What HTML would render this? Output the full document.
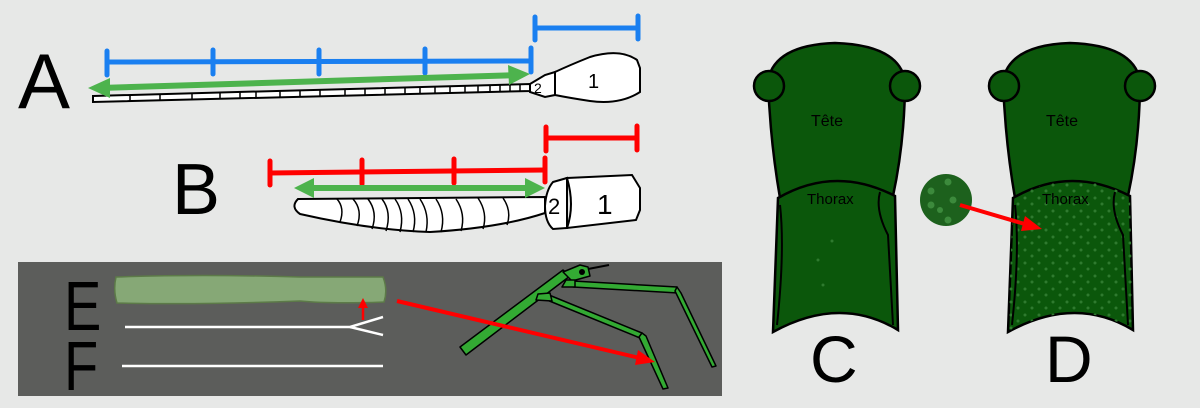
<!DOCTYPE html>
<html><head><meta charset="utf-8"><style>
html,body{margin:0;padding:0;background:#e7e8e7;}
svg{display:block;}
text{font-family:"Liberation Sans",sans-serif;}
</style></head><body>
<svg width="1200" height="408" viewBox="0 0 1200 408" xmlns="http://www.w3.org/2000/svg">
<rect width="1200" height="408" fill="#e7e8e7"/>
<defs>
<pattern id="dots" width="14" height="13" patternUnits="userSpaceOnUse">
<circle cx="3" cy="3" r="1.5" fill="#2f7a2f"/><circle cx="10" cy="9" r="1.5" fill="#2f7a2f"/>
</pattern>
</defs>
<!-- A -->
<text x="18" y="108" font-size="78">A</text>
<g stroke="#1a7ff0" stroke-width="5" stroke-linecap="round">
<line x1="107" y1="62" x2="531" y2="61"/>
<line x1="107" y1="51" x2="107" y2="75"/><line x1="213" y1="50" x2="213" y2="74"/>
<line x1="319" y1="50" x2="319" y2="74"/><line x1="425" y1="49" x2="425" y2="73"/><line x1="531" y1="48" x2="531" y2="72"/>
<line x1="535" y1="28" x2="638" y2="28"/><line x1="535" y1="17" x2="535" y2="40"/><line x1="638" y1="16" x2="638" y2="39"/>
</g>
<polygon points="93,96 530,84 530,91 93,102" fill="#fff" stroke="#000" stroke-width="2"/>
<g stroke="#000" stroke-width="1.5">
<line x1="130" y1="95" x2="130" y2="101"/><line x1="160" y1="94" x2="160" y2="100"/><line x1="192" y1="93" x2="192" y2="99"/>
<line x1="220" y1="92" x2="220" y2="98"/><line x1="240" y1="92" x2="240" y2="98"/><line x1="256" y1="91" x2="256" y2="98"/>
<line x1="280" y1="90" x2="280" y2="97"/><line x1="300" y1="90" x2="300" y2="96"/><line x1="320" y1="89" x2="320" y2="96"/>
<line x1="345" y1="89" x2="345" y2="95"/><line x1="365" y1="88" x2="365" y2="95"/><line x1="385" y1="88" x2="385" y2="94"/>
<line x1="405" y1="87" x2="405" y2="94"/><line x1="420" y1="87" x2="420" y2="93"/><line x1="435" y1="86" x2="435" y2="93"/>
<line x1="450" y1="86" x2="450" y2="93"/><line x1="465" y1="86" x2="465" y2="92"/><line x1="478" y1="85" x2="478" y2="92"/>
<line x1="490" y1="85" x2="490" y2="92"/><line x1="500" y1="85" x2="500" y2="92"/><line x1="510" y1="84" x2="510" y2="91"/><line x1="520" y1="84" x2="520" y2="91"/>
</g>
<polygon points="530,84 545,75 555,72 555,95 545,97 530,92" fill="#fff" stroke="#000" stroke-width="2"/>
<text x="534" y="93" font-size="14">2</text>
<path d="M555,72 Q570,65 590,57 Q620,48 637,60 L640,68 L640,92 Q620,105 590,101 Q570,98 555,95 Z" fill="#fff" stroke="#000" stroke-width="2"/>
<text x="588" y="88" font-size="20">1</text>
<line x1="100" y1="88" x2="520" y2="75" stroke="#4db34d" stroke-width="6"/>
<polygon points="88,88 110,78 110,98" fill="#4db34d"/>
<polygon points="530,74 508,65 509,85" fill="#4db34d"/>
<!-- B -->
<text x="172" y="214" font-size="72">B</text>
<g stroke="#f00" stroke-width="5" stroke-linecap="round">
<line x1="270" y1="173" x2="545" y2="170"/>
<line x1="270" y1="161" x2="270" y2="185"/><line x1="362" y1="160" x2="362" y2="184"/><line x1="454" y1="159" x2="454" y2="183"/><line x1="545" y1="158" x2="545" y2="182"/>
<line x1="546" y1="138" x2="637" y2="138"/><line x1="546" y1="127" x2="546" y2="151"/><line x1="637" y1="126" x2="637" y2="150"/>
</g>
<path d="M298,199 L545,197 L545,213 Q500,228 430,232 Q370,230 300,214 Q290,207 298,199 Z" fill="#fff" stroke="#000" stroke-width="2"/>
<g stroke="#000" stroke-width="1.5" fill="none">
<path d="M337,199 Q345,208 340,222"/><path d="M353,199 Q363,210 357,226"/><path d="M368,199 Q378,212 372,229"/>
<path d="M382,199 Q392,212 386,231"/><path d="M395,199 Q405,213 400,232"/><path d="M408,199 Q418,214 413,232"/>
<path d="M420,199 Q430,214 426,232"/><path d="M436,199 Q446,214 441,232"/><path d="M456,199 Q466,214 461,231"/>
<path d="M478,198 Q488,213 483,229"/><path d="M503,198 Q512,211 507,225"/>
</g>
<path d="M553,182 L567,178 L567,228 L553,229 Q545,222 545,206 Q546,190 553,182 Z" fill="#fff" stroke="#000" stroke-width="2"/>
<text x="548" y="214" font-size="22">2</text>
<path d="M567,178 L632,175 L640,188 L640,210 L636,220 L567,228 Q575,205 567,178 Z" fill="#fff" stroke="#000" stroke-width="2"/>
<text x="597" y="214" font-size="28">1</text>
<line x1="305" y1="188" x2="536" y2="188" stroke="#4db34d" stroke-width="6"/>
<polygon points="294,188 314,178 314,198" fill="#4db34d"/>
<polygon points="545,188 525,178 525,198" fill="#4db34d"/>
<!-- E/F panel -->
<rect x="18" y="262" width="704" height="134" fill="#5c5d5b"/>
<text transform="translate(64,330) scale(0.8,1)" font-size="70" fill="#000">E</text>
<text transform="translate(64,390) scale(0.8,1)" font-size="70" fill="#000">F</text>
<path d="M116,277 Q200,274 300,277 L383,277 Q388,290 384,302 Q330,304 300,301 Q200,305 117,303 Q113,290 116,277 Z" fill="#86a876" stroke="#5c7a48" stroke-width="1.5"/>
<g stroke="#fff" stroke-width="2.5" fill="none">
<polyline points="125,327 350,327 383,317"/><line x1="350" y1="327" x2="383" y2="335"/>
<line x1="122" y1="366" x2="383" y2="366"/>
</g>
<line x1="363" y1="320" x2="363" y2="306" stroke="#f00" stroke-width="2.5"/>
<polygon points="363,298 358,308 368,308" fill="#f00"/>
<!-- insect -->
<g stroke="#000" stroke-width="1.5" fill="#33aa33" stroke-linejoin="round">
<polygon points="573,281 677,287 678,293 573,287"/>
<polygon points="677,287 681,293 716,366 712,367 675,291"/>
<polygon points="549,295 642,333 640,338 547,300"/>
<polygon points="642,333 646,336 668,388 663,389 639,337"/>
<polygon points="460,347 563,270 570,276 466,355"/>
<polygon points="563,272 580,265 588,267 590,276 572,281"/>
<polygon points="566,280 575,280 575,287 562,287"/>
<polygon points="538,294 550,293 552,301 536,300"/>
</g>
<circle cx="582" cy="272" r="3" fill="#000"/>
<line x1="588" y1="269" x2="609" y2="265" stroke="#000" stroke-width="2"/>
<line x1="397" y1="301" x2="644" y2="359" stroke="#f00" stroke-width="4"/>
<polygon points="655,362 638,350 635,365" fill="#f00"/>
<!-- C -->
<g stroke="#000" stroke-width="2.5" fill="#0b570b">
<path d="M780,198 Q770,140 768,80 Q775,45 835,43 Q898,45 905,80 Q905,140 893,196 Z"/>
<circle cx="769" cy="86" r="15"/><circle cx="905" cy="86" r="15"/>
<path d="M778,198 Q835,165 895,196 L898,330 Q840,295 773,332 Z"/>
<path d="M780,205 Q785,250 777,325" fill="none" stroke-width="2"/>
<path d="M880,192 Q875,210 888,235 L893,325" fill="none" stroke-width="2"/>
</g>
<circle cx="832" cy="241" r="1.5" fill="#2f7a2f"/><circle cx="818" cy="260" r="1.5" fill="#2f7a2f"/><circle cx="823" cy="285" r="1.5" fill="#2f7a2f"/>
<text x="811" y="126" font-size="16">Tête</text>
<text x="807" y="204" font-size="15">Thorax</text>
<text x="810" y="382" font-size="66">C</text>
<!-- D -->
<g stroke="#000" stroke-width="2.5" fill="#0b570b">
<path d="M1015,198 Q1005,140 1003,80 Q1010,45 1070,43 Q1133,45 1140,80 Q1140,140 1128,196 Z"/>
<circle cx="1004" cy="86" r="15"/><circle cx="1140" cy="86" r="15"/>
<path d="M1013,198 Q1070,165 1130,196 L1133,330 Q1075,295 1008,332 Z"/>
</g>
<path d="M1013,198 Q1070,165 1130,196 L1133,330 Q1075,295 1008,332 Z" fill="url(#dots)"/>
<g stroke="#000" stroke-width="2" fill="none">
<path d="M1015,205 Q1020,250 1012,325"/>
<path d="M1115,192 Q1110,210 1123,235 L1128,325"/>
</g>
<text x="1046" y="126" font-size="16">Tête</text>
<text x="1042" y="204" font-size="15">Thorax</text>
<text x="1045" y="382" font-size="66">D</text>
<!-- magnifier circle -->
<circle cx="946" cy="200" r="26" fill="#1d611d"/>
<g fill="#3c8a3c"><circle cx="931" cy="191" r="3.5"/><circle cx="948" cy="182" r="3.5"/><circle cx="931" cy="205" r="3.5"/><circle cx="953" cy="200" r="3.5"/><circle cx="948" cy="220" r="3.5"/><circle cx="940" cy="210" r="3"/></g>
<line x1="960" y1="205" x2="1028" y2="225" stroke="#f00" stroke-width="4"/>
<polygon points="1042,229 1025,216 1021,231" fill="#f00"/>
</svg>
</body></html>
